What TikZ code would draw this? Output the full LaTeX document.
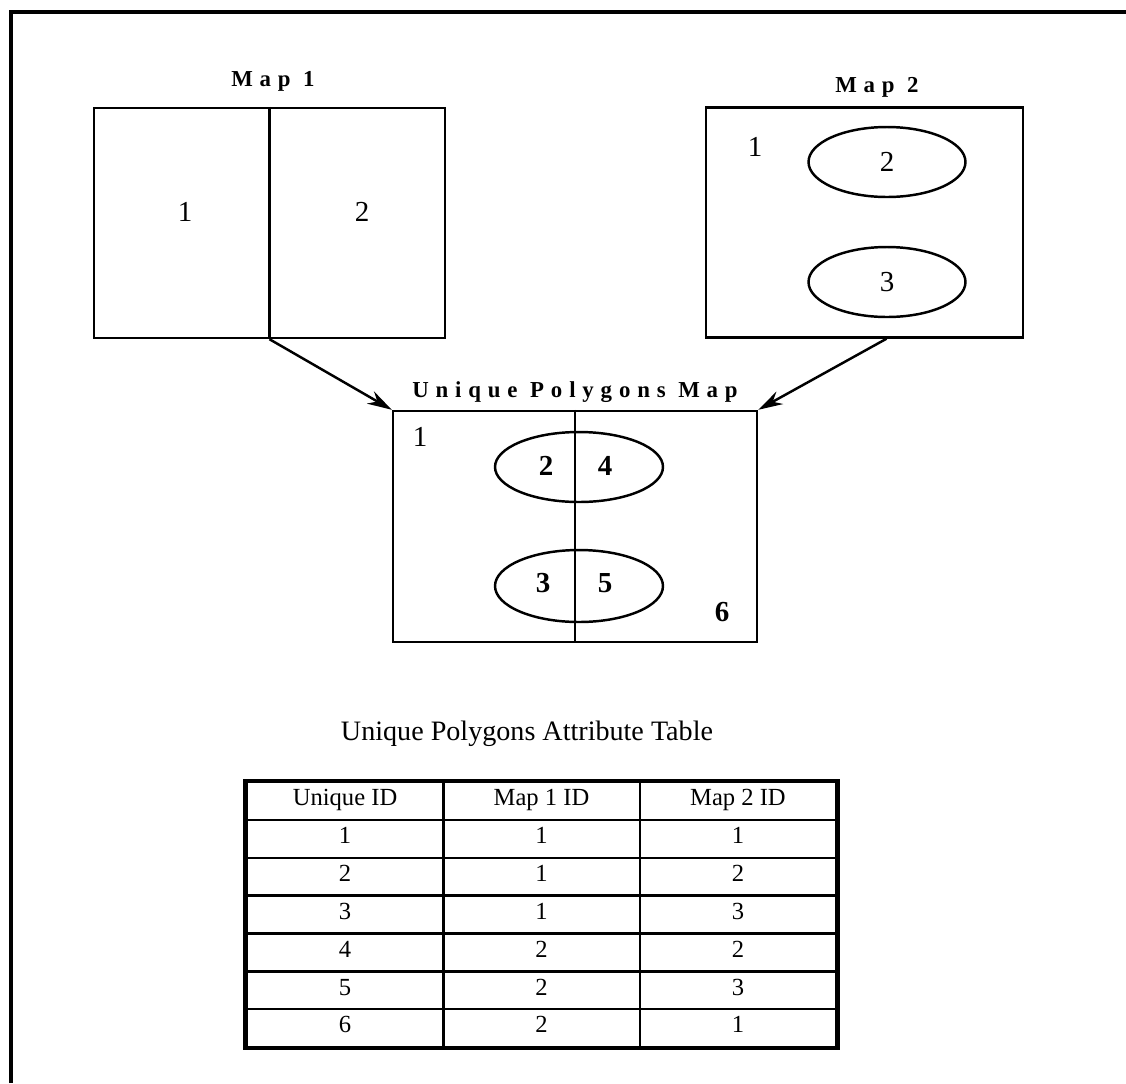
\documentclass[tikz,border=0pt]{standalone}
\usepackage{fontspec}
\setmainfont{Liberation Serif}
\usetikzlibrary{shapes.geometric,arrows.meta,positioning,calc,matrix}

\begin{document}
\begin{tikzpicture}[x=0.02cm, y=-0.02cm, line width=1.4pt, >={Stealth[length=14pt,width=8pt]}]
\tikzstyle{mapbox}=[draw, rectangle, minimum height=4.6cm, inner sep=0pt]
\tikzstyle{blob}=[draw, ellipse, minimum width=3.14cm, minimum height=1.4cm, inner sep=0pt]
\tikzstyle{maptitle}=[anchor=base, inner sep=0pt, font=\fontsize{13}{15}\selectfont\bfseries\addfontfeature{LetterSpace=30}]
\tikzstyle{lbl}=[inner sep=0pt, font=\fontsize{16.5}{18}\selectfont]
\tikzstyle{blbl}=[lbl, font=\fontsize{16.5}{18}\selectfont\bfseries]
\useasboundingbox (0,0) rectangle (1126,1083);
\draw[line width=1.8pt] (11,1083) -- (11,12) -- (1126,12);

% Map 1
\node[mapbox, minimum width=7.02cm] (map1) at (269.5,223) {};
\draw (map1.north) -- (map1.south);
\node[maptitle] (map1title) at (273,86) {Map 1};
\node[lbl] (m1a) at (185,212) {1};
\node[lbl] (m1b) at (362,212) {2};

% Map 2
\node[mapbox, minimum width=6.34cm] (map2) at (864.5,222.5) {};
\node[maptitle] (map2title) at (877,92) {Map 2};
\node[lbl] (m2a) at (755,147) {1};
\node[blob, lbl] (m2b) at (887,162) {2};
\node[blob, lbl] (m2c) at (887,282) {3};

% Unique polygons
\node[mapbox, minimum width=7.28cm, minimum height=4.62cm] (uniq) at (575,526.5) {};
\draw (uniq.north) -- (uniq.south);
\node[maptitle] (uniqtitle) at (575,397) {Unique Polygons Map};
\node[blob, minimum width=3.36cm] (e1) at (579,467) {};
\node[blob, minimum width=3.36cm, minimum height=1.44cm] (e2) at (579,586) {};
\node[lbl] (u1) at (420,437) {1};
\node[blbl] (u2) at (546,466) {2};
\node[blbl] (u4) at (605,466) {4};
\node[blbl] (u3) at (543,583) {3};
\node[blbl] (u5) at (605,583) {5};
\node[blbl] (u6) at (722,612) {6};

\coordinate (m2foot) at ($(map2.south)+(22,0)$);
\draw[->] (map1.south) -- (uniq.north west);
\draw[->] (m2foot) -- (uniq.north east);

% attribute table
\node[anchor=base, inner sep=0pt, font=\fontsize{16}{19}\selectfont] (tabtitle) at (527,740) {Unique Polygons Attribute Table};
\matrix[matrix of nodes, draw, line width=2.4pt, inner sep=0pt, column sep=-1.4pt, row sep=-1.4pt,
  nodes={draw, line width=1.4pt, minimum width=3.93cm, minimum height=0.757cm, inner sep=0pt,
  text height=1.6ex, text depth=0.4ex, font=\fontsize{14}{16}\selectfont}] (tab) at (541.5,914.5) {
Unique ID & Map 1 ID & Map 2 ID \\
1 & 1 & 1 \\
2 & 1 & 2 \\
3 & 1 & 3 \\
4 & 2 & 2 \\
5 & 2 & 3 \\
6 & 2 & 1 \\
};
\end{tikzpicture}
\end{document}
